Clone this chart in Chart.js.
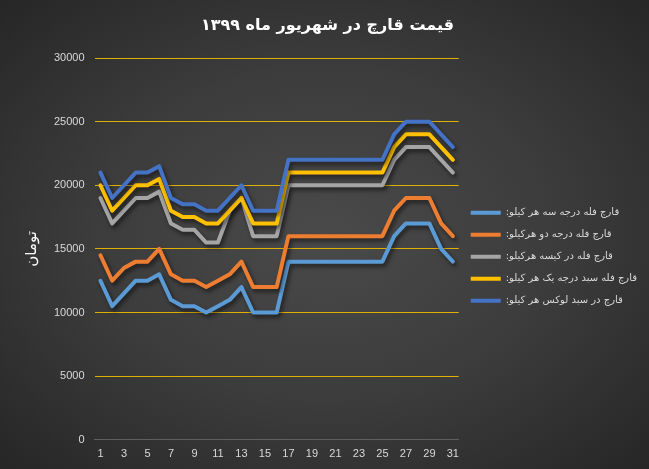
<!DOCTYPE html>
<html>
<head>
<meta charset="utf-8">
<script src="https://cdn.jsdelivr.net/npm/chart.js@4.4.0/dist/chart.umd.min.js"></script>
<style>
    html, body { margin: 0; padding: 0; }
    body {
        width: 649px; height: 469px; overflow: hidden;
        background: radial-gradient(ellipse at 50% 50%, #4a4a4a 0%, #3c3c3c 50%, #262626 100%);
    }
    #wrap { width: 649px; height: 469px; position: relative; }
</style>
</head>
<body>
<div id="wrap"><canvas id="mushroomChart"></canvas></div>
<script>
// days of Shahrivar 1399
const days = ['1', '2', '3', '4', '5', '6', '7', '8', '9', '10', '11', '12', '13', '14', '15', '16',
    '17', '18', '19', '20', '21', '22', '23', '24', '25', '26', '27', '28', '29', '30', '31'];

const seriesNames = [
    'قارچ فله درجه سه هر کیلو:',
    'قارچ فله درجه دو هرکیلو:',
    'قارچ فله در کیسه هرکیلو:',
    'قارچ فله سبد درجه یک هر کیلو:',
    'قارچ در سبد لوکس هر کیلو:'
];
const seriesColors = ['#5B9BD5', '#ED7D31', '#A5A5A5', '#FFC000', '#4472C4'];

const gradeThree = [12500, 10500, 11500, 12500, 12500, 13000, 11000, 10500, 10500, 10000, 10500, 11000, 12000, 10000, 10000, 10000,
    14000, 14000, 14000, 14000, 14000, 14000, 14000, 14000, 14000, 16000, 17000, 17000, 17000, 15000, 14000];
const gradeTwo = [14500, 12500, 13500, 14000, 14000, 15000, 13000, 12500, 12500, 12000, 12500, 13000, 14000, 12000, 12000, 12000,
    16000, 16000, 16000, 16000, 16000, 16000, 16000, 16000, 16000, 18000, 19000, 19000, 19000, 17000, 16000];
const inBag = [19000, 17000, 18000, 19000, 19000, 19500, 17000, 16500, 16500, 15500, 15500, 18000, 19000, 16000, 16000, 16000,
    20000, 20000, 20000, 20000, 20000, 20000, 20000, 20000, 20000, 22000, 23000, 23000, 23000, 22000, 21000];
const basketOne = [20000, 18000, 19000, 20000, 20000, 20500, 18000, 17500, 17500, 17000, 17000, 18000, 19000, 17000, 17000, 17000,
    21000, 21000, 21000, 21000, 21000, 21000, 21000, 21000, 21000, 23000, 24000, 24000, 24000, 23000, 22000];
const basketLux = [21000, 19000, 20000, 21000, 21000, 21500, 19000, 18500, 18500, 18000, 18000, 19000, 20000, 18000, 18000, 18000,
    22000, 22000, 22000, 22000, 22000, 22000, 22000, 22000, 22000, 24000, 25000, 25000, 25000, 24000, 23000];

const allSeries = [gradeThree, gradeTwo, inBag, basketOne, basketLux];

// soft drop shadow under each line, like the office chart
const lineShadow = {
    id: 'lineShadow',
    beforeDatasetDraw(chart) {
        let ctx = chart.ctx;
        ctx.save();
        ctx.shadowColor = 'rgba(0, 0, 0, 0.55)';
        ctx.shadowBlur = 4;
        ctx.shadowOffsetX = 2;
        ctx.shadowOffsetY = 3;
    },
    afterDatasetDraw(chart) {
        chart.ctx.restore();
    }
};

let ctx = document.getElementById('mushroomChart').getContext('2d');

let chart = new Chart(ctx, {
    type: 'line',
    data: {
        labels: days,
        datasets: allSeries.map((values, i) => ({
            label: seriesNames[i],
            data: values,
            borderColor: seriesColors[i],
            backgroundColor: seriesColors[i],
            borderWidth: 4,
            borderJoinStyle: 'round',
            borderCapStyle: 'round',
            pointRadius: 0,
            tension: 0,
            fill: false,
            order: allSeries.length - i  // later series drawn on top
        }))
    },
    options: {
        responsive: true,
        maintainAspectRatio: false,
        animation: false,
        layout: {
            padding: { left: 8, right: 2, top: 0, bottom: 0 }
        },
        scales: {
            x: {
                offset: true,
                grid: { display: false, drawTicks: false },
                // gray axis line drawn over the gold zero gridline
                border: { display: true, color: '#5e5e5e', width: 1, z: 1 },
                ticks: {
                    autoSkip: false,
                    maxRotation: 0,
                    padding: 8,
                    color: '#d9d9d9',
                    font: { family: 'Liberation Sans', size: 11 },
                    callback: (value, index) => index % 2 === 0 ? days[index] : ''
                }
            },
            y: {
                min: 0,
                max: 30000,
                grid: {
                    drawTicks: false,
                    lineWidth: 1,
                    color: '#e0b000'
                },
                border: { display: false },
                ticks: {
                    stepSize: 5000,
                    padding: 10,
                    color: '#d9d9d9',
                    font: { family: 'Liberation Sans', size: 11 },
                    callback: (value) => String(value)
                },
                title: {
                    display: true,
                    text: 'تومان',
                    color: '#ffffff',
                    font: { family: 'DejaVu Sans', size: 15 },
                    padding: { top: 15, bottom: 3 }
                }
            }
        },
        plugins: {
            title: {
                display: true,
                text: 'قیمت قارچ در شهریور ماه ۱۳۹۹',
                color: '#ffffff',
                font: { family: 'DejaVu Sans', size: 16, weight: 'bold' },
                padding: { top: 16.4, bottom: 22.4 }
            },
            legend: {
                position: 'right',
                align: 'center',
                maxWidth: 200,
                textDirection: 'rtl',
                title: { display: true, text: '', padding: { top: 30, bottom: 0 } },
                labels: {
                    usePointStyle: true,
                    pointStyle: 'line',
                    pointStyleWidth: 30,
                    padding: 12,
                    color: '#d9d9d9',
                    font: { family: 'DejaVu Sans', size: 10 },
                    sort: (a, b) => a.datasetIndex - b.datasetIndex
                }
            },
            tooltip: { enabled: false }
        }
    },
    plugins: [lineShadow]
});
</script>
</body>
</html>
